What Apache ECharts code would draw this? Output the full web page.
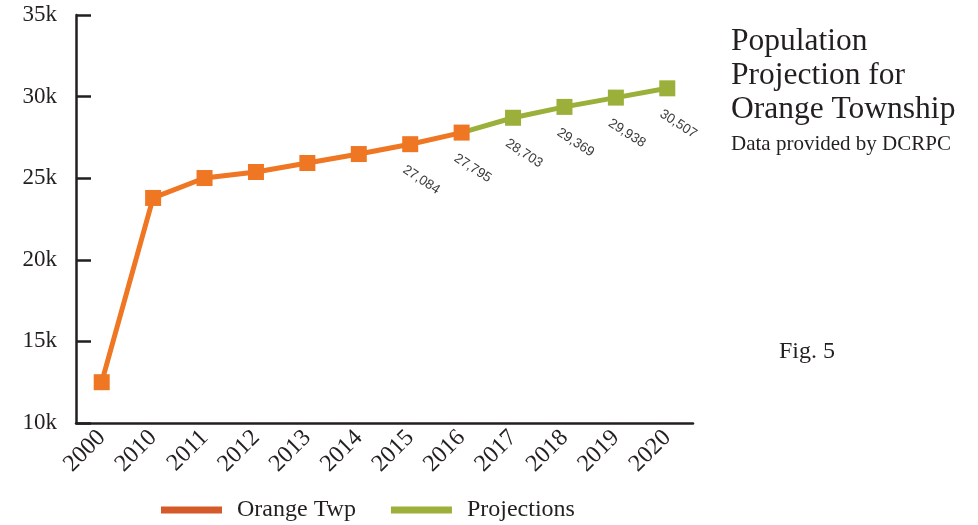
<!DOCTYPE html>
<html>
<head>
<meta charset="utf-8">
<script src="https://cdn.jsdelivr.net/npm/echarts@6/dist/echarts.min.js"></script>
<style>
  html, body { margin: 0; padding: 0; background: #fff; }
  #chart { width: 978px; height: 525px; }
</style>
</head>
<body>
<div id="chart"></div>
<script>
// Years on the category axis
const years = ['2000', '2010', '2011', '2012', '2013', '2014', '2015', '2016', '2017', '2018', '2019', '2020'];
// Recorded / estimated population, 2000–2016
const orangeTwp = [12500, 23790, 25010, 25380, 25930, 26480, 27084, 27795];
// DCRPC projections, starting from the 2016 figure
const projections = [27795, 28703, 29369, 29938, 30507];
const projStart = 7; // index of 2016 in years
// Years whose value is printed next to the marker
const labelledYears = ['2015', '2016', '2017', '2018', '2019', '2020'];
const yTicks = { min: 10000, max: 35000, step: 5000 };

const INK = '#231F20';
const SERIF = '"Liberation Serif", "Times New Roman", serif';
const ORANGE = '#EF7622';
const GREEN = '#9BB03A';

const fmt = v => String(v).replace(/\B(?=(\d{3})+(?!\d))/g, ',');

const valueLabel = {
  position: 'bottom',
  distance: 5,
  rotate: -33,
  align: 'left',
  verticalAlign: 'middle',
  offset: [1, 13],
  color: '#3b3b3b',
  fontSize: 13.5,
  fontFamily: '"Liberation Sans", Arial, sans-serif',
  formatter: p => fmt(p.value)
};

const orangeData = orangeTwp.map((v, i) => ({
  value: v,
  label: { show: labelledYears.includes(years[i]) }
}));
const projData = years.map((y, i) => {
  if (i < projStart) return null;
  const v = projections[i - projStart];
  if (i === projStart) return { value: v, symbol: 'none', label: { show: false } };
  return { value: v, label: { show: labelledYears.includes(y) } };
});

const chart = echarts.init(document.getElementById('chart'));
chart.setOption({
  animation: false,
  backgroundColor: '#fff',
  grid: { left: 76, right: 285, top: 15, bottom: 102, containLabel: false },
  title: [
    {
      text: 'Population\nProjection for\nOrange Township',
      left: 731, top: 25, padding: 0,
      textStyle: { fontFamily: SERIF, fontSize: 31.5, fontWeight: 'normal', color: INK, lineHeight: 34 }
    },
    {
      text: 'Data provided by DCRPC',
      left: 731, top: 134, padding: 0,
      textStyle: { fontFamily: SERIF, fontSize: 21, fontWeight: 'normal', color: INK }
    },
    {
      text: 'Fig. 5',
      left: 779, top: 340, padding: 0,
      textStyle: { fontFamily: SERIF, fontSize: 24, fontWeight: 'normal', color: INK }
    }
  ],
  legend: {
    left: 161, top: 498, padding: 0,
    icon: 'rect',
    itemWidth: 61, itemHeight: 7, itemGap: 35,
    textStyle: { fontFamily: SERIF, fontSize: 24, color: INK, padding: [0, 0, 0, 10] },
    data: [
      { name: 'Orange Twp', itemStyle: { color: '#D45B29' } },
      { name: 'Projections', itemStyle: { color: '#9DB03A' } }
    ]
  },
  xAxis: {
    type: 'category',
    data: years,
    boundaryGap: true,
    axisLine: { lineStyle: { color: INK, width: 2.5 } },
    axisTick: { alignWithLabel: true, inside: true, length: 12, lineStyle: { color: INK, width: 2.5 } },
    axisLabel: { rotate: 45, margin: 11, fontFamily: SERIF, fontSize: 24, color: INK, interval: 0 },
    splitLine: { show: false }
  },
  yAxis: {
    type: 'value',
    min: yTicks.min, max: yTicks.max, interval: yTicks.step,
    axisLine: { show: true, lineStyle: { color: INK, width: 2.5 } },
    axisTick: { show: true, inside: true, length: 15, lineStyle: { color: INK, width: 2.5 } },
    axisLabel: { margin: 19, verticalAlign: 'middle', padding: [8, 0, 0, 0], fontFamily: SERIF, fontSize: 23, color: INK, formatter: v => (v / 1000) + 'k' },
    splitLine: { show: false }
  },
  series: [
    {
      name: 'Orange Twp',
      type: 'line',
      z: 3,
      data: orangeData,
      symbol: 'rect',
      symbolSize: 16,
      lineStyle: { color: ORANGE, width: 5 },
      itemStyle: { color: ORANGE },
      label: valueLabel
    },
    {
      name: 'Projections',
      type: 'line',
      z: 2,
      data: projData,
      symbol: 'rect',
      symbolSize: 16,
      lineStyle: { color: GREEN, width: 5 },
      itemStyle: { color: GREEN },
      label: valueLabel
    }
  ]
});
</script>
</body>
</html>
